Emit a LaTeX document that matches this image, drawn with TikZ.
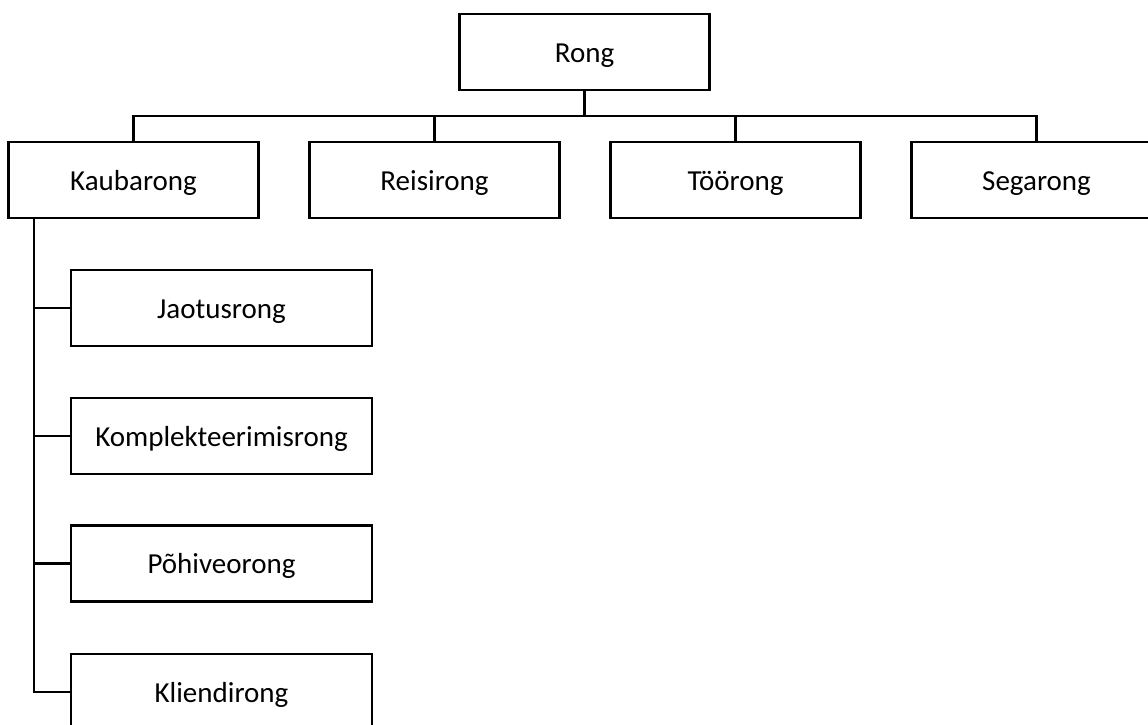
\documentclass[tikz,border=0pt]{standalone}
\usepackage{fontspec}
\setmainfont{Carlito}
\begin{document}
\begin{tikzpicture}[x=1pt,y=-1pt,
  box/.style={draw=black,line width=2.2pt,minimum width=250pt,minimum height=76pt,inner sep=0pt,text height=20pt,text depth=0pt,font=\fontsize{29}{34}\selectfont,anchor=center},
  link/.style={draw=black,line width=2.6pt}]
\clip (0,0) rectangle (1148,724);
\fill[white] (0,0) rectangle (1148,724);
\node[box] (rong) at (584.5,52) {Rong};
\node[box] (kauba) at (133.5,180) {Kaubarong};
\node[box] (reisi) at (434.5,180) {Reisirong};
\node[box] (too) at (735.5,180) {Töörong};
\node[box] (sega) at (1036.5,180) {Segarong};
\node[box,minimum width=301pt] (jao) at (221.5,308) {Jaotusrong};
\node[box,minimum width=301pt] (kompl) at (221.5,436) {Komplekteerimisrong};
\node[box,minimum width=301pt] (pohi) at (221.5,563.5) {Põhiveorong};
\node[box,minimum width=301pt] (klien) at (221.5,692) {Kliendirong};
\coordinate (bus) at (584.5,116);
\draw[link] (rong.south) -- (bus);
\draw[link] (kauba.north) |- (bus) -| (sega.north);
\draw[link] (reisi.north) -- (reisi.north |- bus);
\draw[link] (too.north) -- (too.north |- bus);
\coordinate (spine) at (34,218);
\draw[link] (spine) |- (klien.west);
\draw[link] (jao.west) -- (jao.west -| spine);
\draw[link] (kompl.west) -- (kompl.west -| spine);
\draw[link] (pohi.west) -- (pohi.west -| spine);
\end{tikzpicture}
\end{document}
